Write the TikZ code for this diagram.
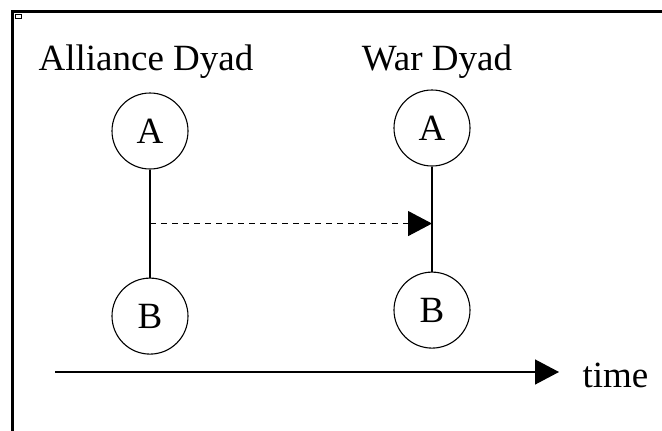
\documentclass[tikz,border=0pt]{standalone}
\usepackage{fontspec}
\setmainfont{Liberation Serif}
\usetikzlibrary{positioning,arrows.meta,calc}

\tikzset{
	dyad/.style={draw, circle, minimum size=76pt, inner sep=0pt, line width=1.1pt},
	caption/.style={anchor=base, inner sep=0pt}
}

\begin{document}
\begin{tikzpicture}[x=1pt, y=-1pt, line width=1.2pt, >={Triangle[length=24pt,width=25pt]},
	font=\fontsize{37}{41}\selectfont]

		\useasboundingbox (0,0) rectangle (662,431);
		% frame, only top and left edge showing
		\draw[line width=3pt] (12,431) -- (12,11) -- (662,11);
		\draw[line width=0.8pt] (15,14) rectangle (21,18);

		\node[dyad] (allA) at (150,131) {A};
		\node[dyad, below=108pt of allA] (allB) {B};
		\node[dyad] (warA) at (432,128) {A};
		\node[dyad, below=105pt of warA] (warB) {B};

		\node[caption] (alliance) at (146,70) {Alliance Dyad};
		\node[caption] (war) at (437,70) {War Dyad};

		\draw (allA) -- (allB);
		\draw (warA) -- (warB);

		\coordinate (mid) at ($(allA)!0.5!(allB)$);
		\draw[->, dashed, dash pattern=on 6pt off 5pt] (mid) -- (mid -| warA);

		% time axis
		\coordinate (t0) at (55,372);
		\coordinate (t1) at (559,372);
		\node[caption, anchor=base west] (time) at (582,387) {time};
		\draw[->, line width=1.4pt] (t0) -- (t1);
	\end{tikzpicture}
\end{document}
